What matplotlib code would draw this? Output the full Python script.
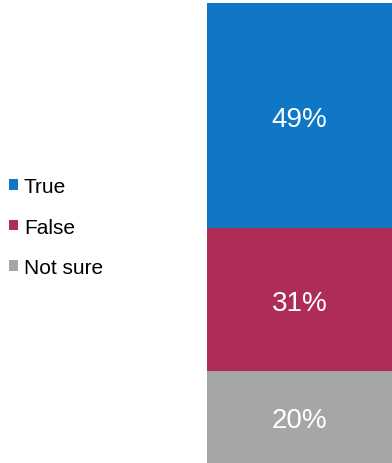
import matplotlib.pyplot as plt
from matplotlib.patches import Patch

plt.rcParams['font.family'] = ['Liberation Sans', 'DejaVu Sans']

categories = ['True', 'False', 'Not sure']
shares = [49, 31, 20]
colors = ['#0F77C6', '#AE2D57', '#A6A6A6']

fig = plt.figure(figsize=(3.92, 4.64), dpi=100)
ax = fig.add_axes([207 / 392, 0, 185 / 392, 460 / 464])

# stack from the top down: True on top, Not sure at the bottom
bottom = 100
for cat, val, col in zip(categories, shares, colors):
    bottom -= val
    ax.bar(0, val, bottom=bottom, width=1.0, color=col, edgecolor='none')
    ax.text(0, bottom + val / 2, f'{val}%', ha='center', va='center_baseline',
            color='white', fontsize=20)

ax.set_xlim(-0.5, 0.5)
ax.set_ylim(0, 100)
ax.axis('off')

handles = [Patch(facecolor=c, edgecolor='none') for c in colors]
fig.legend(handles, categories, loc='center left',
           bbox_to_anchor=(9 / 392, 1 - 228 / 464),
           frameon=False, fontsize=15, handlelength=0.42, handleheight=0.42,
           handletextpad=0.3, labelspacing=1.02, borderpad=0, borderaxespad=0)

fig.savefig('out.png', dpi=100)
